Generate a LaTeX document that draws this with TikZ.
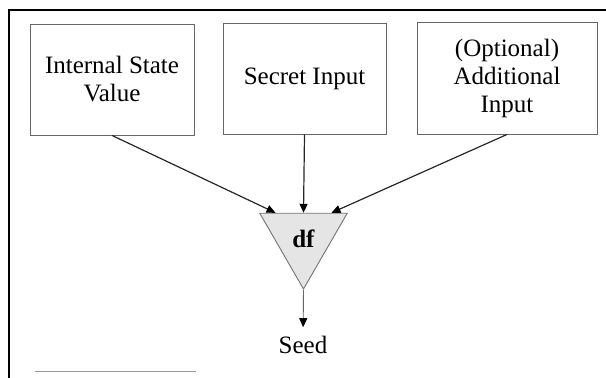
\documentclass[tikz,border=0pt]{standalone}
\usepackage{fontspec}
\setmainfont{Liberation Serif}
\usetikzlibrary{shapes.geometric,arrows.meta}

\begin{document}
\begin{tikzpicture}[x=1pt,y=-1pt,font=\fontsize{25}{28}\selectfont]
      \useasboundingbox (0,0) rectangle (606,378);

      % frame
      \draw[line width=2pt] (9,378) -- (9,10) -- (606,10);
      \draw[gray!80] (35,371) -- (196,371);

      \begin{scope}[every node/.style={rectangle,draw=black!60,line width=.9pt,align=center,inner sep=0pt}]
        \node[minimum width=164pt,minimum height=111pt] (state)  at (112,79.5) {Internal State\\Value};
        \node[minimum width=163pt,minimum height=111pt] (secret) at (304.5,78.5) {Secret Input};
        \node[minimum width=180pt,minimum height=112pt] (extra)  at (507,78) {(Optional)\\Additional\\Input};
      \end{scope}

      \node[regular polygon,regular polygon sides=3,shape border rotate=180,
            minimum size=101pt,inner sep=0pt,draw=black!55,fill=black!10,line width=.9pt]
            (df) at (303.5,238.5) {\textbf{df}};
      \node[outer sep=9pt,inner sep=0pt] (seed) at (303,345) {Seed};

      \begin{scope}[every edge/.style={draw,-{Triangle[length=9pt,width=8pt,color=black,fill=black]}}]
        \path[black!85,line width=1.2pt] (state.south)  edge ([xshift=-28pt]df.north);
        \path[black!85,line width=1.2pt] (secret.south) edge (df.north);
        \path[black!85,line width=1.2pt] (extra.south)  edge ([xshift=28pt]df.north);
        \path[black!60,line width=.9pt]  (df.south) edge (seed);
      \end{scope}

    \end{tikzpicture}
\end{document}
